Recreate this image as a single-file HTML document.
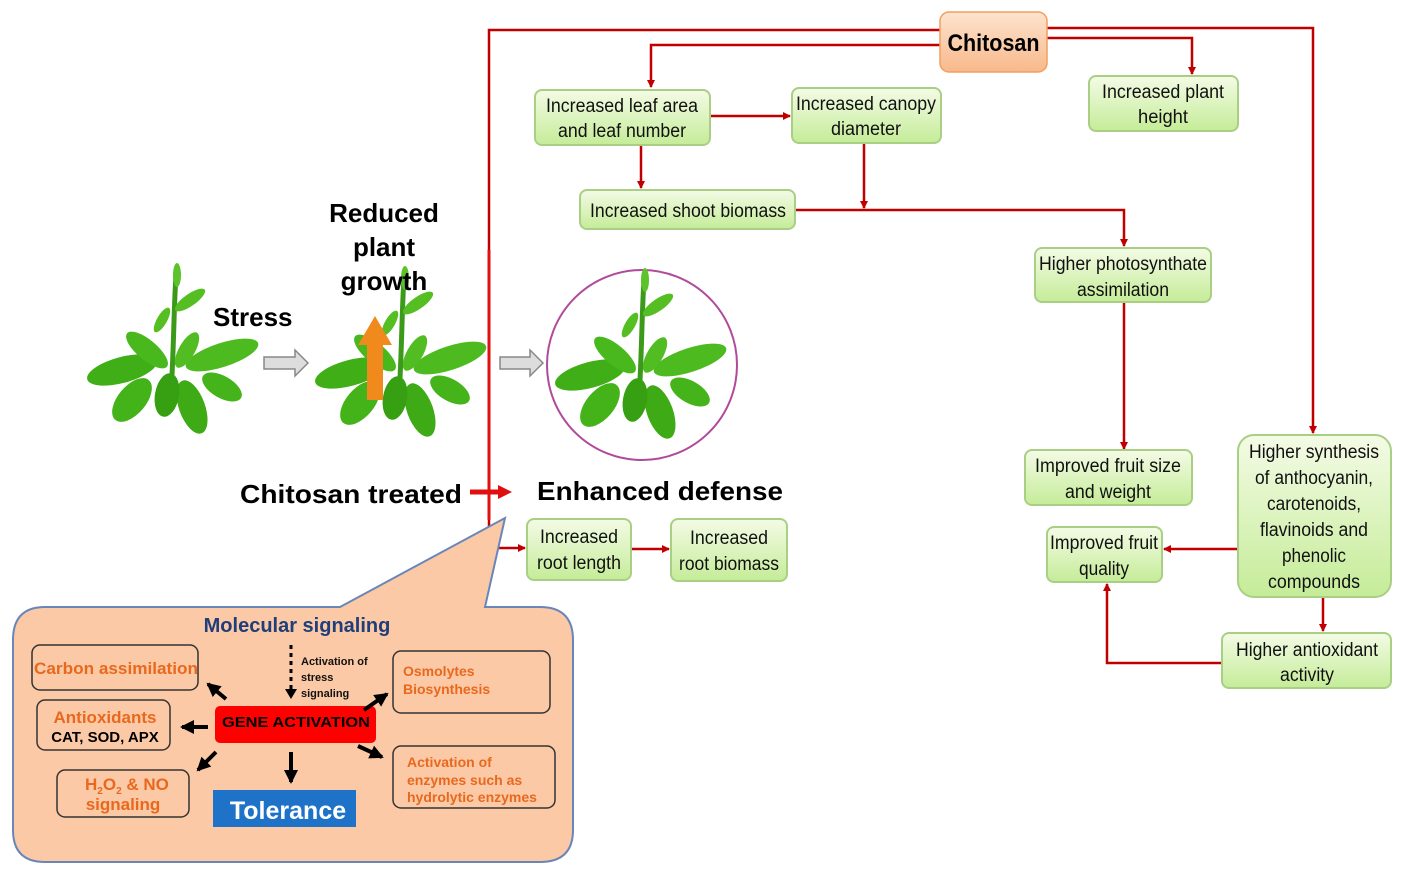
<!DOCTYPE html>
<html><head><meta charset="utf-8"><style>
html,body{margin:0;padding:0;background:#fff;}
svg{display:block;font-family:"Liberation Sans",sans-serif;}
</style></head><body>
<svg width="1403" height="875" viewBox="0 0 1403 875" xmlns="http://www.w3.org/2000/svg">
<defs>
<linearGradient id="gb" x1="0" y1="0" x2="0" y2="1"><stop offset="0" stop-color="#f4fbe6"/><stop offset="1" stop-color="#c5ec98"/></linearGradient>
<linearGradient id="ob" x1="0" y1="0" x2="0" y2="1"><stop offset="0" stop-color="#fde3cf"/><stop offset="1" stop-color="#f8b98a"/></linearGradient>
<marker id="ar" markerWidth="8" markerHeight="8" refX="7" refY="4" orient="auto" markerUnits="userSpaceOnUse"><path d="M0,0 L8,4 L0,8 z" fill="#c00000"/></marker>
<marker id="ak" markerWidth="14" markerHeight="14" refX="12" refY="7" orient="auto" markerUnits="userSpaceOnUse"><path d="M0,0 L14,7 L0,14 z" fill="#000"/></marker>
<g id="plant">
<path d="M0,0 C2,-40 2,-70 4,-100" stroke="#3c9a1a" stroke-width="5" fill="none"/>
<ellipse cx="5" cy="-100" rx="4" ry="12" fill="#5cc32a"/>
<ellipse cx="18" cy="-75" rx="18" ry="6" transform="rotate(-35 18 -75)" fill="#54be22"/>
<ellipse cx="-10" cy="-55" rx="14" ry="5" transform="rotate(-60 -10 -55)" fill="#54be22"/>
<ellipse cx="-50" cy="-5" rx="36" ry="13" transform="rotate(-15 -50 -5)" fill="#3fae17"/>
<ellipse cx="-40" cy="25" rx="26" ry="14" transform="rotate(-50 -40 25)" fill="#44b31a"/>
<ellipse cx="50" cy="-20" rx="38" ry="12" transform="rotate(-18 50 -20)" fill="#4dbb1f"/>
<ellipse cx="-25" cy="-25" rx="26" ry="10" transform="rotate(40 -25 -25)" fill="#49b81d"/>
<ellipse cx="20" cy="32" rx="13" ry="28" transform="rotate(-20 20 32)" fill="#3eaa15"/>
<ellipse cx="50" cy="12" rx="22" ry="11" transform="rotate(30 50 12)" fill="#45b41b"/>
<ellipse cx="15" cy="-25" rx="20" ry="8" transform="rotate(-60 15 -25)" fill="#52bd22"/>
<ellipse cx="-5" cy="20" rx="12" ry="22" transform="rotate(10 -5 20)" fill="#36a012"/>
</g>
</defs>

<g stroke="#c00000" stroke-width="2.5" fill="none">
<polyline points="940,30 489,30 489,548 525,548" marker-end="url(#ar)"/>
<polyline points="1047,28 1313,28 1313,433" marker-end="url(#ar)"/>
<polyline points="940,45 651,45 651,87" marker-end="url(#ar)"/>
<polyline points="1047,38 1192,38 1192,74" marker-end="url(#ar)"/>
<line x1="710" y1="116" x2="790" y2="116" marker-end="url(#ar)"/>
<line x1="641" y1="145" x2="641" y2="188" marker-end="url(#ar)"/>
<line x1="864" y1="143" x2="864" y2="208" marker-end="url(#ar)"/>
<polyline points="795,210 1124,210 1124,246" marker-end="url(#ar)"/>
<line x1="1124" y1="302" x2="1124" y2="449" marker-end="url(#ar)"/>
<line x1="1238" y1="549" x2="1164" y2="549" marker-end="url(#ar)"/>
<line x1="1323" y1="597" x2="1323" y2="631" marker-end="url(#ar)"/>
<polyline points="1222,663 1107,663 1107,584" marker-end="url(#ar)"/>
<line x1="631" y1="549" x2="669" y2="549" marker-end="url(#ar)"/>
</g>
<line x1="489" y1="250" x2="489" y2="520" stroke="#e01010" stroke-width="3"/>

<rect x="940" y="12" width="107" height="60" rx="9" fill="url(#ob)" stroke="#f0a060" stroke-width="1.5"/>
<text x="993.5" y="51" font-size="24" font-weight="bold" text-anchor="middle" textLength="92" lengthAdjust="spacingAndGlyphs">Chitosan</text>

<g fill="url(#gb)" stroke="#a9cf85" stroke-width="2">
<rect x="535" y="90" width="175" height="55" rx="7"/>
<rect x="792" y="88" width="149" height="55" rx="7"/>
<rect x="1089" y="76" width="149" height="55" rx="7"/>
<rect x="580" y="190" width="215" height="39" rx="7"/>
<rect x="1035" y="248" width="176" height="54" rx="7"/>
<rect x="1025" y="450" width="167" height="55" rx="7"/>
<rect x="1047" y="527" width="115" height="55" rx="7"/>
<rect x="1238" y="435" width="153" height="162" rx="16"/>
<rect x="1222" y="633" width="169" height="55" rx="7"/>
<rect x="527" y="519" width="104" height="61" rx="7"/>
<rect x="671" y="519" width="116" height="62" rx="7"/>
</g>
<g font-size="19" text-anchor="middle" fill="#111">
<text x="622" y="112" textLength="152" lengthAdjust="spacingAndGlyphs">Increased leaf area</text>
<text x="622" y="137" textLength="128" lengthAdjust="spacingAndGlyphs">and leaf number</text>
<text x="866" y="110" textLength="140" lengthAdjust="spacingAndGlyphs">Increased canopy</text>
<text x="866" y="135" textLength="70" lengthAdjust="spacingAndGlyphs">diameter</text>
<text x="1163" y="98" textLength="122" lengthAdjust="spacingAndGlyphs">Increased plant</text>
<text x="1163" y="123" textLength="50" lengthAdjust="spacingAndGlyphs">height</text>
<text x="688" y="217" textLength="196" lengthAdjust="spacingAndGlyphs">Increased shoot biomass</text>
<text x="1123" y="270" textLength="168" lengthAdjust="spacingAndGlyphs">Higher photosynthate</text>
<text x="1123" y="296" textLength="92" lengthAdjust="spacingAndGlyphs">assimilation</text>
<text x="1108" y="472" textLength="146" lengthAdjust="spacingAndGlyphs">Improved fruit size</text>
<text x="1108" y="498" textLength="86" lengthAdjust="spacingAndGlyphs">and weight</text>
<text x="1104" y="549" textLength="108" lengthAdjust="spacingAndGlyphs">Improved fruit</text>
<text x="1104" y="575" textLength="50" lengthAdjust="spacingAndGlyphs">quality</text>
<text x="1314" y="458" textLength="130" lengthAdjust="spacingAndGlyphs">Higher synthesis</text>
<text x="1314" y="484" textLength="118" lengthAdjust="spacingAndGlyphs">of anthocyanin,</text>
<text x="1314" y="510" textLength="94" lengthAdjust="spacingAndGlyphs">carotenoids,</text>
<text x="1314" y="536" textLength="108" lengthAdjust="spacingAndGlyphs">flavinoids and</text>
<text x="1314" y="562" textLength="64" lengthAdjust="spacingAndGlyphs">phenolic</text>
<text x="1314" y="588" textLength="92" lengthAdjust="spacingAndGlyphs">compounds</text>
<text x="1307" y="656" textLength="142" lengthAdjust="spacingAndGlyphs">Higher antioxidant</text>
<text x="1307" y="681" textLength="54" lengthAdjust="spacingAndGlyphs">activity</text>
<text x="579" y="543" textLength="78" lengthAdjust="spacingAndGlyphs">Increased</text>
<text x="579" y="569" textLength="84" lengthAdjust="spacingAndGlyphs">root length</text>
<text x="729" y="544" textLength="78" lengthAdjust="spacingAndGlyphs">Increased</text>
<text x="729" y="570" textLength="100" lengthAdjust="spacingAndGlyphs">root biomass</text>
</g>

<use href="#plant" transform="translate(172,375)"/>
<use href="#plant" transform="translate(400,378)"/>
<circle cx="642" cy="365" r="95" fill="none" stroke="#b04a9a" stroke-width="2"/>
<use href="#plant" transform="translate(640,380)"/>
<path d="M367,400 L367,345 L358,345 L375,316 L392,345 L383,345 L383,400 z" fill="#f08a1c"/>
<path d="M264,357 L295,357 L295,350 L308,363 L295,376 L295,369 L264,369 z" fill="#ddd" stroke="#888" stroke-width="1.5"/>
<path d="M500,357 L530,357 L530,350 L543,363 L530,376 L530,369 L500,369 z" fill="#ddd" stroke="#888" stroke-width="1.5"/>

<g font-size="26" font-weight="bold" fill="#000">
<text x="384" y="222" text-anchor="middle">Reduced</text>
<text x="384" y="256" text-anchor="middle">plant</text>
<text x="384" y="290" text-anchor="middle">growth</text>
<text x="213" y="326">Stress</text>
<text x="240" y="503" textLength="222" lengthAdjust="spacingAndGlyphs">Chitosan treated</text>
<text x="537" y="500" textLength="246" lengthAdjust="spacingAndGlyphs">Enhanced defense</text>
</g>
<line x1="470" y1="492" x2="500" y2="492" stroke="#e01010" stroke-width="5"/>
<path d="M498,485 L512,492 L498,499 z" fill="#e01010"/>

<path d="M45,607 L340,607 L505,518 L485,607 L540,607 Q573,607 573,640 L573,830 Q573,862 540,862 L45,862 Q13,862 13,830 L13,640 Q13,607 45,607 z" fill="#fbc9a5" stroke="#6a86b8" stroke-width="2"/>
<text x="297" y="632" font-size="20" font-weight="bold" fill="#1f3e7a" text-anchor="middle">Molecular signaling</text>
<g fill="none" stroke="#333" stroke-width="1.5">
<rect x="32" y="645" width="166" height="45" rx="8"/>
<rect x="37" y="700" width="133" height="50" rx="8"/>
<rect x="57" y="770" width="132" height="47" rx="8"/>
<rect x="393" y="651" width="157" height="62" rx="8"/>
<rect x="393" y="746" width="162" height="62" rx="8"/>
</g>
<g font-weight="bold" fill="#e8691e">
<text x="34" y="674" font-size="17" textLength="164" lengthAdjust="spacingAndGlyphs">Carbon assimilation</text>
<text x="105" y="723" font-size="17" text-anchor="middle">Antioxidants</text>
<text x="85" y="790" font-size="17">H<tspan font-size="10" dy="4">2</tspan><tspan dy="-4">O</tspan><tspan font-size="10" dy="4">2</tspan><tspan dy="-4"> &amp; NO</tspan></text>
<text x="123" y="810" font-size="17" text-anchor="middle">signaling</text>
<text x="403" y="676" font-size="14">Osmolytes</text>
<text x="403" y="694" font-size="14">Biosynthesis</text>
<text x="407" y="767" font-size="14">Activation  of</text>
<text x="407" y="785" font-size="14">enzymes  such as</text>
<text x="407" y="802" font-size="14">hydrolytic  enzymes</text>
</g>
<text x="105" y="742" font-size="15" font-weight="bold" text-anchor="middle" fill="#000">CAT, SOD, APX</text>
<rect x="215" y="706" width="161" height="37" rx="5" fill="#f00"/>
<text x="296" y="727" font-size="15" font-weight="bold" text-anchor="middle" fill="#000" textLength="148" lengthAdjust="spacingAndGlyphs">GENE ACTIVATION</text>
<rect x="213" y="790" width="143" height="37" fill="#1e73c8"/>
<text x="288" y="819" font-size="25" font-weight="bold" text-anchor="middle" fill="#fff">Tolerance</text>
<g font-size="11" font-weight="bold" fill="#111">
<text x="301" y="665">Activation  of</text>
<text x="301" y="681">stress</text>
<text x="301" y="697">signaling</text>
</g>
<line x1="291" y1="645" x2="291" y2="690" stroke="#000" stroke-width="3" stroke-dasharray="4,4"/>
<path d="M285,689 L297,689 L291,699 z" fill="#000"/>
<g stroke="#000" stroke-width="4">
<line x1="226" y1="699" x2="208" y2="684" marker-end="url(#ak)"/>
<line x1="208" y1="727" x2="182" y2="727" marker-end="url(#ak)"/>
<line x1="216" y1="752" x2="198" y2="770" marker-end="url(#ak)"/>
<line x1="291" y1="752" x2="291" y2="782" marker-end="url(#ak)"/>
<line x1="364" y1="710" x2="387" y2="694" marker-end="url(#ak)"/>
<line x1="358" y1="746" x2="382" y2="757" marker-end="url(#ak)"/>
</g>
</svg>
</body></html>
